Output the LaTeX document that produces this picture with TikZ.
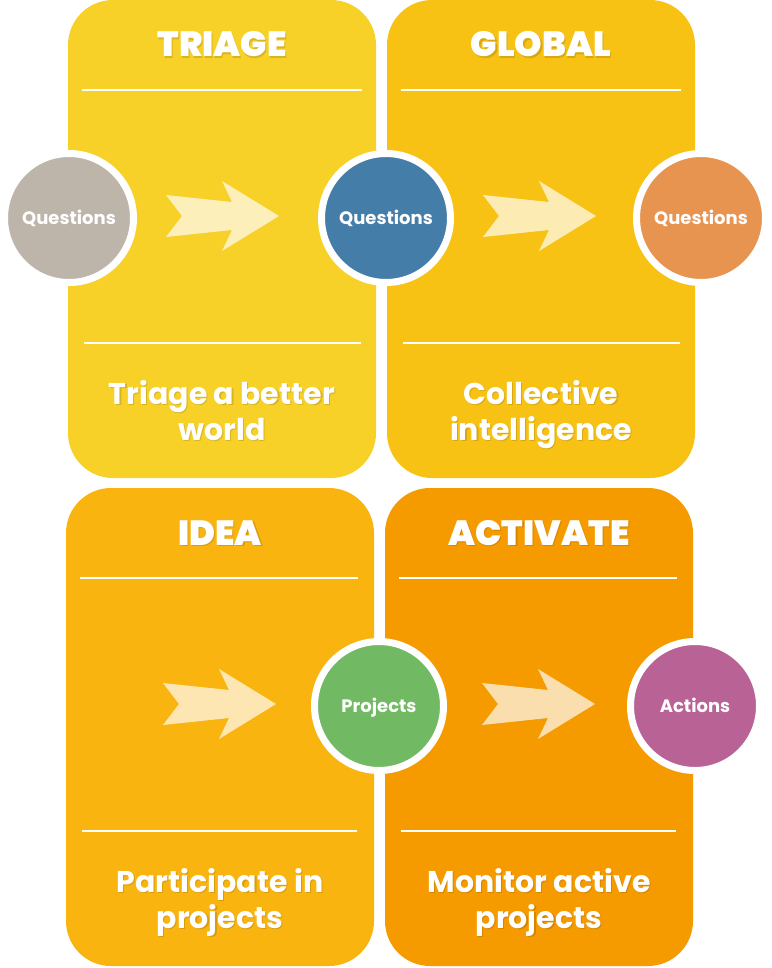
\documentclass[tikz,border=0pt]{standalone}
\usepackage{fontspec}
\newfontfamily\pop{Poppins}
\newfontfamily\popblack{Poppins Black}
\definecolor{ptl}{HTML}{F7D028}
\definecolor{ptr}{HTML}{F8C214}
\definecolor{pbl}{HTML}{F9B410}
\definecolor{pbr}{HTML}{F59B00}
\definecolor{cgray}{HTML}{BDB5AA}
\definecolor{cblue}{HTML}{457DA9}
\definecolor{corange}{HTML}{E89451}
\definecolor{cgreen}{HTML}{72B964}
\definecolor{cpurple}{HTML}{B96295}
\tikzset{
  panel/.style={fill=#1, rounded corners=45pt},
  sepline/.style={draw=white, line width=2pt},
  title/.style={text=white, inner sep=0pt, anchor=base, font=\popblack\fontsize{35}{40}\selectfont},
  body/.style={text=white, inner sep=0pt, anchor=base, font=\pop\bfseries\fontsize{30}{35}\selectfont},
  shade/.style={text=black, text opacity=0.13},
  disc/.style={circle, fill=#1, draw=white, line width=7pt, minimum size=129pt, inner sep=0pt, text height=12.6pt, text depth=0pt, text=white, font=\pop\bfseries\fontsize{18}{20}\selectfont},
  arr/.pic={\fill[white, fill opacity=0.68] (0,-21)--(66,-14)--(56,-35)--(113,0)--(56,35)--(66,14)--(0,21)--(16,0)--cycle;}
}
\begin{document}
\begin{tikzpicture}[x=1pt,y=-1pt]
\useasboundingbox (0,0) rectangle (771,968);
% panels
\path[panel=ptl] (68,0) rectangle (376,478);
\path[panel=ptr] (387,0) rectangle (695,478);
\path[panel=pbl] (66,488) rectangle (374,966);
\path[panel=pbr] (385,488) rectangle (693,966);
% separator lines
\coordinate (l1a) at (82,90);  \coordinate (l1b) at (362,90);
\coordinate (l2a) at (84,343); \coordinate (l2b) at (361,343);
\coordinate (l3a) at (401,90); \coordinate (l3b) at (681,90);
\coordinate (l4a) at (403,343); \coordinate (l4b) at (680,343);
\coordinate (l5a) at (80,578); \coordinate (l5b) at (358,578);
\coordinate (l6a) at (82,831); \coordinate (l6b) at (357,831);
\coordinate (l7a) at (399,578); \coordinate (l7b) at (677,578);
\coordinate (l8a) at (401,831); \coordinate (l8b) at (676,831);
\foreach \i in {1,...,8} {\draw[sepline] (l\i a) -- (l\i b);}
% titles (with soft shadow)
\foreach \n/\x/\y/\t in {t1/222/57/TRIAGE, t2/541/57/GLOBAL, t3/220/545/IDEA, t4/539/545/ACTIVATE} {
  \node[title, shade] (\n s) at (\x+1.2,\y+1.5) {\t};
  \node[title] (\n) at (\x,\y) {\t};
}
% body texts (with soft shadow)
\foreach \n/\x/\y/\t in {b1a/222/404/Triage a better, b1b/222/440/world,
  b2a/541/404/Collective, b2b/541/440/intelligence,
  b3a/220/892/Participate in, b3b/220/928/projects,
  b4a/539/892/Monitor active, b4b/539/928/projects} {
  \node[body, shade] (\n s) at (\x+1.2,\y+1.5) {\t};
  \node[body] (\n) at (\x,\y) {\t};
}
% arrows
\pic at (166,216) {arr};
\pic at (483,216) {arr};
\pic at (163,704) {arr};
\pic at (482,704) {arr};
% circles
\node[disc=cgray] (c1) at (69,218) {Questions};
\node[disc=cblue] (c2) at (386,218) {Questions};
\node[disc=corange] (c3) at (701,218) {Questions};
\node[disc=cgreen] (c4) at (379,706) {Projects};
\node[disc=cpurple] (c5) at (695,706) {Actions};
\end{tikzpicture}
\end{document}
